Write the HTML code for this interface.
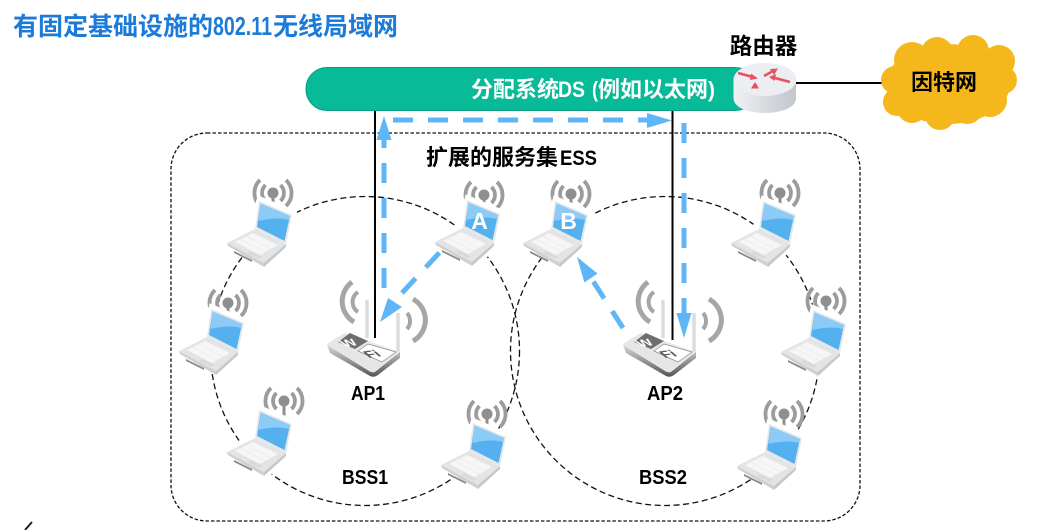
<!DOCTYPE html>
<html><head><meta charset="utf-8">
<style>
html,body{margin:0;padding:0;background:#fff;width:1053px;height:530px;overflow:hidden}
svg{display:block}
text{font-family:"Liberation Sans","Noto Sans CJK SC",sans-serif;font-weight:700}
</style></head><body>
<svg width="1053" height="530" viewBox="0 0 1053 530" xmlns="http://www.w3.org/2000/svg">
<defs>
<linearGradient id="rt" x1="0" y1="0" x2="1" y2="0"><stop offset="0" stop-color="#f0f1f4"/><stop offset="1" stop-color="#c2c5cd"/></linearGradient>
<linearGradient id="apside" x1="0" y1="0" x2="0" y2="1"><stop offset="0" stop-color="#d8d8d8"/><stop offset="1" stop-color="#555"/></linearGradient>
<g id="ant">
 <g fill="none" stroke="#9c9c9c" stroke-width="3.800">
  <path d="M-7.500,-8 A11,11 0 0 0 -7.500,8"/>
  <path d="M7.500,-8 A11,11 0 0 1 7.500,8"/>
  <path d="M-13,-13 A18,18 0 0 0 -13,13"/>
  <path d="M13,-13 A18,18 0 0 1 13,13"/>
 </g>
 <circle r="5.500" fill="#8f8f8f"/>
 <path d="M0,0V15" stroke="#8f8f8f" stroke-width="3"/>
</g>
<g id="lap">
 <path d="M0,-3 L36,12 L31,44 L8,66 L-36,44 L-7,24 Z" fill="#fff" stroke="#fff" stroke-width="4"/>
 <path d="M-32,42 L-4,28 L27,43 L5,62 Z" fill="#e3e4e6"/>
 <path d="M-32,42 L5,62 L5,66 L-31,45 Z" fill="#cfd0d3"/>
 <path d="M5,62 L27,43 L27,46 L5,66 Z" fill="#c6c7ca"/>
 <path d="M-24,41 L-6,32 L19,44 L1,54 Z" fill="#f6f6f7"/>
 <path d="M-19,38 L6,51 M-13,35 L12,48" stroke="#e8e9eb" stroke-width=".7" fill="none"/>
 <path d="M-9,50 L4,56 L1,58 L-12,52 Z" fill="#d8d9dc"/>
 <path d="M-25,50 L-7,59 L-7,61 L-25,52 Z" fill="#8a8a8a"/>
 <path d="M0,0 L33,14 L27,43 L-4,28 Z" fill="#e6e7ea"/>
 <path d="M1.500,2.500 L31,15 L25.500,40 L-2,26 Z" fill="#55b0ef"/>
 <path d="M1.500,2.500 L31,15 L30,19 C20,16 8,18 -.500,20 Z" fill="#8ccbf6"/>
</g>
<g id="ap">
 <g fill="none" stroke="#a6a6a6">
  <path d="M358,292 A12,12 0 0 0 358,312" stroke-width="4"/>
  <path d="M352,282 A24,24 0 0 0 354,322" stroke-width="5"/>
  <path d="M407,313 A12,12 0 0 1 407,329" stroke-width="4"/>
  <path d="M413,299 A24,24 0 0 1 413,341" stroke-width="5"/>
 </g>
 <path d="M367,300V338" stroke="#dcdcdc" stroke-width="3.500"/>
 <path d="M398,313V352" stroke="#dcdcdc" stroke-width="3.500"/>
 <path d="M327,345 L330,353 L370,376 Q374,378 378,375 L400,358 L400,352 Z" fill="url(#apside)"/>
 <path d="M327,345 Q328,342 345,333 L400,352 L375,372 Q372,373 369,371 Z" fill="#e6e6e6"/>
 <path d="M338,342 L350,333 L368,341 L355,349 Z" fill="#6e6e6e"/>
 <path d="M358,351 L368,344 L396,352 L382,362 Z" fill="#fff" stroke="#8a8a8a" stroke-width=".7"/>
 <text transform="matrix(1,-.15,.7,.6,345,347)" font-size="15" fill="#fff">W</text>
 <text transform="matrix(1,-.15,.7,.6,369,358)" font-size="15" fill="#555">Fi</text>
</g>
</defs>

<rect width="1053" height="530" fill="#fff"/>
<text x="13" y="35" font-size="25" fill="#1c7bd8">有固定基础设施的</text>
<text x="213" y="35" font-size="26" fill="#1c7bd8" textLength="59" lengthAdjust="spacingAndGlyphs">802.11</text>
<text x="273" y="35" font-size="25" fill="#1c7bd8">无线局域网</text>

<rect x="171" y="133" width="689" height="388" rx="36" fill="none" stroke="#111" stroke-width="1.300" stroke-dasharray="3.500 2"/>
<circle cx="365" cy="351" r="154.500" fill="none" stroke="#111" stroke-width="1.300" stroke-dasharray="6 3.500"/>
<circle cx="665" cy="351" r="154.500" fill="none" stroke="#111" stroke-width="1.300" stroke-dasharray="6 3.500"/>

<use href="#ant" x="273" y="193"/><use href="#lap" x="259" y="201"/>
<use href="#ant" x="484" y="195"/><use href="#lap" x="467" y="200"/>
<use href="#ant" x="571" y="194"/><use href="#lap" x="555" y="201"/>
<use href="#ant" x="780" y="193"/><use href="#lap" x="763" y="201"/>
<use href="#ant" x="228" y="303"/><use href="#lap" x="211" y="309"/>
<path d="M284,415V424" stroke="#8f8f8f" stroke-width="3"/>
<use href="#ant" x="284" y="401"/><use href="#lap" x="259" y="410"/>
<use href="#ant" x="487" y="414"/><use href="#lap" x="473" y="423"/>
<use href="#ant" x="826" y="301"/><use href="#lap" x="813" y="310"/>
<use href="#ant" x="784" y="414"/><use href="#lap" x="769" y="424"/>
<text x="479.500" y="229" font-size="23" fill="#fff" text-anchor="middle">A</text>
<text x="568.500" y="229" font-size="23" fill="#fff" text-anchor="middle">B</text>

<use href="#ap"/>
<use href="#ap" x="296"/>

<path d="M375,110V338" stroke="#000" stroke-width="2"/>
<path d="M672.500,110V340" stroke="#000" stroke-width="2"/>
<path d="M796,83H885" stroke="#000" stroke-width="2"/>

<rect x="306" y="67.500" width="450" height="43" rx="21" fill="#07ba98" stroke="#0a9c80" stroke-width="1"/>
<g fill="#fff">
<text x="471" y="97" font-size="22">分配系统</text>
<text x="558" y="97" font-size="22" textLength="27" lengthAdjust="spacingAndGlyphs">DS</text>
<text x="592" y="97" font-size="22" textLength="6" lengthAdjust="spacingAndGlyphs">(</text>
<text x="598" y="97" font-size="22">例如以太网</text>
<text x="708" y="97" font-size="22" textLength="7" lengthAdjust="spacingAndGlyphs">)</text>
</g>

<path d="M733.500,80 V98 C733.500,118 796,118 796,98 V80 Z" fill="url(#rt)"/>
<ellipse cx="765" cy="79.500" rx="31.500" ry="16.500" fill="#eceef2"/>
<g fill="none" stroke="#e8505f" stroke-width="2.500">
 <path d="M738,73 L753,77"/><path d="M764,76 L773,71"/><path d="M757,85 L755,86"/><path d="M790,82 L775,78"/>
</g>
<g fill="#e8505f">
 <path d="M758,78.500 L751,73.500 L750,80 Z"/>
 <path d="M778,68.500 L770,69 L774,75 Z"/>
 <path d="M751,88.500 L759,88.500 L755,82 Z"/>
 <path d="M769,77 L776,74 L774.500,81 Z"/>
</g>

<g fill="#f5b81c">
 <ellipse cx="948" cy="84" rx="62" ry="40"/>
 <circle cx="895" cy="80" r="14"/>
 <circle cx="897" cy="102" r="14"/>
 <circle cx="912" cy="60" r="18"/>
 <circle cx="937" cy="53" r="16"/>
 <circle cx="973" cy="51" r="16"/>
 <circle cx="999" cy="61" r="16"/>
 <circle cx="1003" cy="80" r="14"/>
 <circle cx="990" cy="100" r="17"/>
 <circle cx="967" cy="108" r="16"/>
 <circle cx="940" cy="115" r="15"/>
 <circle cx="912" cy="108" r="15"/>
</g>
<text x="944" y="90" font-size="22" fill="#000" text-anchor="middle">因特网</text>
<text x="763.500" y="54" font-size="22.500" fill="#000" text-anchor="middle">路由器</text>

<g fill="none" stroke="#5fb6f6" stroke-width="5" stroke-dasharray="20 15">
 <path d="M384,288 V128"/>
 <path d="M393,120 H652"/>
 <path d="M684,123 V318"/>
 <path d="M402,293 L440,252"/>
 <path d="M623,328 L593,281"/>
</g>
<g fill="#5fb6f6">
 <path d="M384,116 L391.500,140 L376.500,140 Z"/>
 <path d="M672,120.500 L647,113 L647,128 Z"/>
 <path d="M684,338 L676.500,313 L691.500,313 Z"/>
 <path d="M380,322 L388,298 L402,307 Z"/>
 <path d="M577,257 L597.600,273.500 L584.400,282.500 Z"/>
</g>

<text x="426" y="165" font-size="22" fill="#000">扩展的服务集</text>
<text x="560" y="165" font-size="21" fill="#000" textLength="37" lengthAdjust="spacingAndGlyphs">ESS</text>
<text x="351" y="400" font-size="20" fill="#000" textLength="34" lengthAdjust="spacingAndGlyphs">AP1</text>
<text x="647" y="400" font-size="20" fill="#000" textLength="36" lengthAdjust="spacingAndGlyphs">AP2</text>
<text x="342" y="484" font-size="20" fill="#000" textLength="46" lengthAdjust="spacingAndGlyphs">BSS1</text>
<text x="639" y="484" font-size="20" fill="#000" textLength="48" lengthAdjust="spacingAndGlyphs">BSS2</text>
<path d="M25,530 L32,522" stroke="#222" stroke-width="2"/>
</svg>
</body></html>
